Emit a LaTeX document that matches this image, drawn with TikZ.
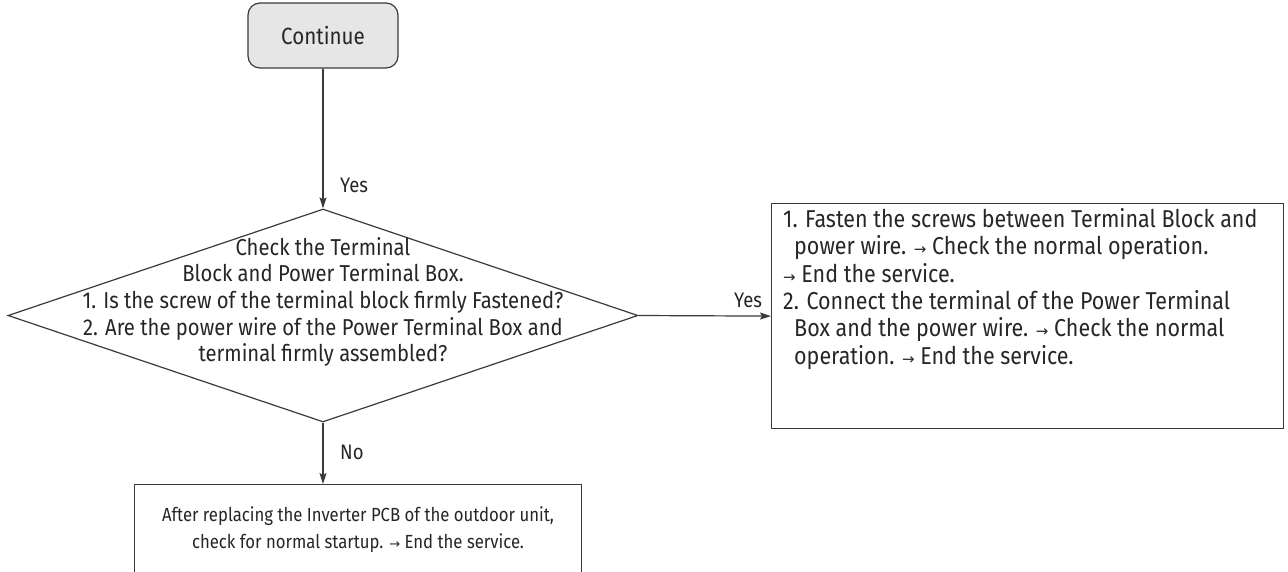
\documentclass[tikz,border=0pt]{standalone}
\usepackage{fontspec}
\setmainfont{Fira Sans}[FakeStretch=0.88]
\newfontfamily\symfont{DejaVu Sans}
\usetikzlibrary{shapes.geometric,arrows.meta}
\newcommand{\rarr}[1][15]{{\symfont\fontsize{#1}{#1}\selectfont →}}
\definecolor{ln}{HTML}{3A3A3A}
\definecolor{tx}{HTML}{262626}
\definecolor{gf}{HTML}{E6E6E6}
\begin{document}
\begin{tikzpicture}[x=1pt,y=-1pt,
 every node/.style={text=tx},
 line/.style={draw=ln, line width=1.2pt},
 arr/.style={line, -{Stealth[length=11pt,width=7pt,inset=2pt]}},
 lbl/.style={anchor=west, inner sep=0pt, font=\fontsize{21}{25}\selectfont},
 dtext/.style={font=\fontsize{23}{26.6}\selectfont},
 rtext/.style={font=\fontsize{24.4}{27.4}\selectfont},
 btext/.style={font=\fontsize{19}{27}\selectfont},
]
\useasboundingbox (0,0) rectangle (1288,571);
\clip (0,0) rectangle (1288,571);
\node[line, rectangle, rounded corners=12pt, fill=gf, minimum width=150pt, minimum height=65pt, font=\fontsize{23.4}{26}\selectfont] (c) at (323,35.5) {Continue};
\node[line, diamond, minimum width=630pt, minimum height=213pt, inner sep=0pt] (d) at (323,315.5) {};
\node[dtext, align=center, inner sep=0pt] (dt) at (323,302) {Check the Terminal\\Block and Power Terminal Box.\\1. Is the screw of the terminal block firmly Fastened?\\2. Are the power wire of the Power Terminal Box and\\terminal firmly assembled?};
\node[line, rectangle, minimum width=512pt, minimum height=225pt, anchor=north west] (r) at (771,203) {};
\node[rtext, anchor=north west, align=left, inner sep=0pt] (rt) at (783,208) {1. Fasten the screws between Terminal Block and\\
\hspace*{11pt}power wire. \rarr{} Check the normal operation.\\
\rarr{} End the service.\\
2. Connect the terminal of the Power Terminal\\
\hspace*{11pt}Box and the power wire. \rarr{} Check the normal\\
\hspace*{11pt}operation. \rarr{} End the service.};
\node[line, rectangle, minimum width=447pt, minimum height=140pt, anchor=north] (b) at (358,484) {};
\node[btext, align=center, inner sep=0pt] (bt) at (358,530) {After replacing the Inverter PCB of the outdoor unit,\\check for normal startup. \rarr[13]{} End the service.};
\draw[arr] (c.south) -- (d.north);
\draw[arr] (d.east) -- (r.west);
\draw[arr] (d.south) -- (d.south |- b.north);
\node[lbl] (y1) at (340,185) {Yes};
\node[lbl] (y2) at (734,300) {Yes};
\node[lbl] (n1) at (340,452) {No};
\end{tikzpicture}
\end{document}
